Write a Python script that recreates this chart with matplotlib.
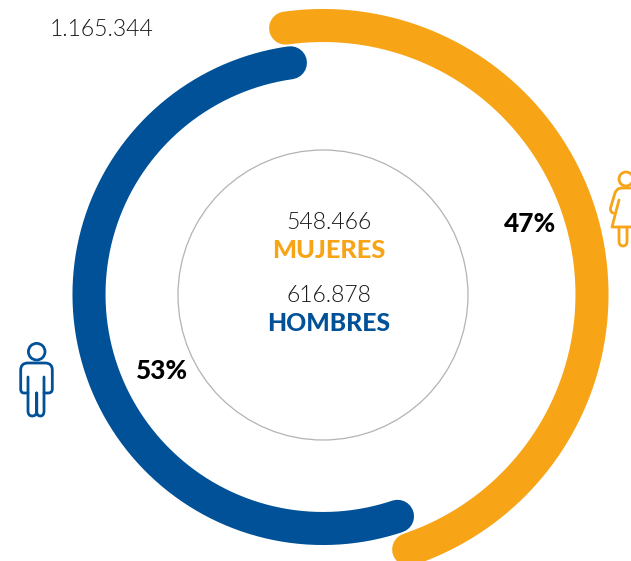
import numpy as np
import matplotlib
matplotlib.use("Agg")
import matplotlib.pyplot as plt
from matplotlib.patches import Circle, PathPatch
from matplotlib.path import Path

total_label = "1.165.344"
mujeres = 548466
hombres = 616878
mujeres_label = "548.466"
hombres_label = "616.878"

ORANGE = "#f7a417"
BLUE = "#005197"
INK = "#1a1a1a"

plt.rcParams["font.family"] = ["Lato", "DejaVu Sans"]

fig = plt.figure(figsize=(6.31, 5.61), dpi=100)
ax = fig.add_axes([0, 0, 1, 1])
ax.set_xlim(0, 631)
ax.set_ylim(561, 0)
ax.axis("off")

total = mujeres + hombres
start = -8.0
cx, cy = 323, 294.5


def arc(share, radius, direction, color):
    # angles in degrees, clockwise from the top
    theta = np.radians(start + direction * np.linspace(0, share * 360, 300))
    ax.plot(cx + radius * np.sin(theta), cy - radius * np.cos(theta), color=color,
            lw=23.8, solid_capstyle="round", clip_on=True)


arc(mujeres / total, 269, 1, ORANGE)
arc(hombres / total, 234, -1, BLUE)

ax.add_patch(Circle((cx, cy + 0.5), 145, fill=False, ec="#b3b3b3", lw=0.9))


def icon(verts, codes, color):
    ax.add_patch(PathPatch(Path(verts, codes), fill=False, ec=color, lw=2.0,
                           capstyle="round", joinstyle="round"))


M, L, C = Path.MOVETO, Path.LINETO, Path.CURVE3

# hombre
ax.add_patch(Circle((36.7, 351.7), 8.3, fill=False, ec=BLUE, lw=2.0))
icon([(28, 377), (28, 411), (28, 416), (32.3, 416), (36.7, 416), (36.7, 411), (36.7, 393),
      (36.7, 411), (36.7, 416), (40.4, 416), (44, 416), (44, 411), (44, 377)],
     [M, L, C, C, C, C, L, L, C, C, C, C, L], BLUE)
icon([(28, 393), (24, 393), (20.7, 393), (20.7, 389), (20.7, 370), (20.7, 363), (28, 363),
      (45, 363), (52.3, 363), (52.3, 370), (52.3, 389), (52.3, 393), (48, 393), (44, 393)],
     [M, L, C, C, L, C, C, L, C, C, L, C, C, L], BLUE)

# mujer
ax.add_patch(Circle((626, 179), 7, fill=False, ec=ORANGE, lw=2.0))
icon([(636, 188), (622, 188), (617, 188), (615, 193), (610.5, 208), (610, 212), (613, 213),
      (619, 200), (612, 227), (640, 227)],
     [M, L, C, C, L, C, C, M, L, L], ORANGE)
icon([(619, 227), (619, 241), (619, 246), (623, 246), (627, 246), (627, 241), (627, 227)],
     [M, L, C, C, C, C, L], ORANGE)

ax.text(102, 29, total_label, ha="center", va="center", fontsize=16.5, fontweight=300, color=INK)
ax.text(329, 222, mujeres_label, ha="center", va="center", fontsize=16.5, fontweight=300, color=INK)
ax.text(329, 250, "MUJERES", ha="center", va="center", fontsize=18.3, fontweight=900, color=ORANGE)
ax.text(329, 295, hombres_label, ha="center", va="center", fontsize=16.5, fontweight=300, color=INK)
ax.text(329, 323, "HOMBRES", ha="center", va="center", fontsize=17.8, fontweight=900, color=BLUE)
ax.text(530.5, 224, f"{round(mujeres / total * 100)}%", ha="center", va="center", fontsize=18.8, fontweight=900, color="black")
ax.text(162.5, 371, f"{round(hombres / total * 100)}%", ha="center", va="center", fontsize=18.8, fontweight=900, color="black")

fig.savefig("out.png", dpi=100)
